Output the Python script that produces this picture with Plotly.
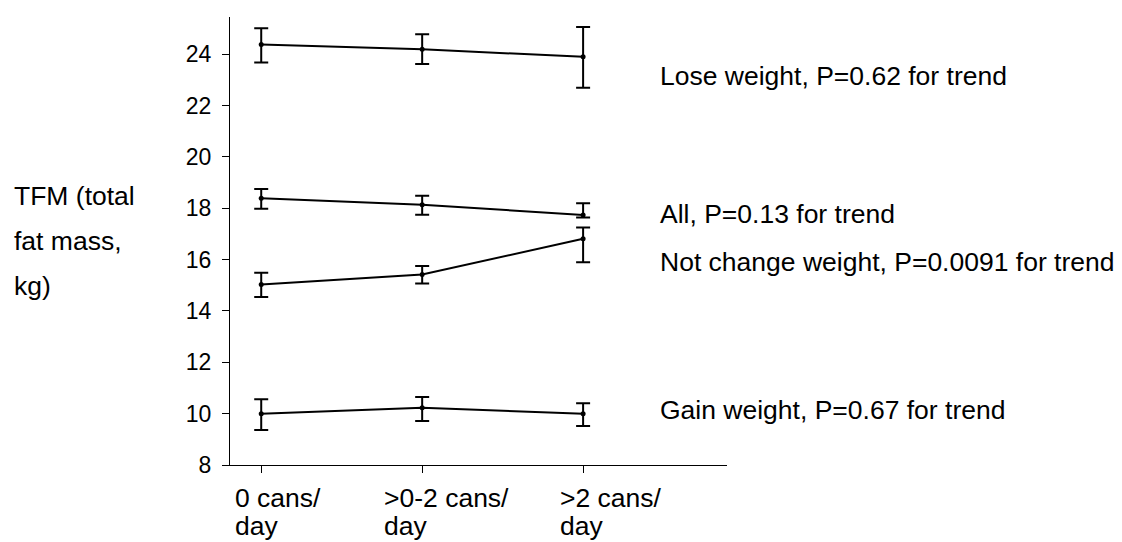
import plotly.graph_objects as go

# Soda intake categories (x positions 0, 1, 2)
categories = ["0 cans/", ">0-2 cans/", ">2 cans/"]
category_second_line = ["day", "day", "day"]
x_pos = [0, 1, 2]

# Mean total fat mass (kg) with upper / lower confidence limits
lose_mean = [24.38, 24.19, 23.90]
lose_upper = [25.01, 24.78, 25.06]
lose_lower = [23.68, 23.62, 22.69]

all_mean = [18.39, 18.14, 17.74]
all_upper = [18.75, 18.49, 18.20]
all_lower = [17.98, 17.75, 17.64]

same_mean = [15.03, 15.42, 16.81]
same_upper = [15.49, 15.75, 17.25]
same_lower = [14.54, 15.07, 15.90]

gain_mean = [10.00, 10.23, 10.00]
gain_upper = [10.56, 10.65, 10.41]
gain_lower = [9.36, 9.71, 9.52]

series_labels = [
    "Lose weight, P=0.62 for trend",
    "All, P=0.13 for trend",
    "Not change weight, P=0.0091 for trend",
    "Gain weight, P=0.67 for trend",
]
series_label_y = [23.15, 17.77, 15.9, 10.14]

y_ticks = [8, 10, 12, 14, 16, 18, 20, 22, 24]
y_title_lines = ["TFM (total", "fat mass,", "kg)"]

FONT = "Liberation Sans, Arial, sans-serif"
INK = "#000000"
BIG = 26.5

fig = go.Figure()

for mean, upper, lower in [
    (lose_mean, lose_upper, lose_lower),
    (all_mean, all_upper, all_lower),
    (same_mean, same_upper, same_lower),
    (gain_mean, gain_upper, gain_lower),
]:
    fig.add_trace(go.Scatter(
        x=x_pos,
        y=mean,
        mode="lines+markers",
        line=dict(color=INK, width=2),
        marker=dict(color=INK, size=5),
        error_y=dict(
            type="data",
            symmetric=False,
            array=[u - m for u, m in zip(upper, mean)],
            arrayminus=[m - l for m, l in zip(mean, lower)],
            color=INK,
            thickness=2,
            width=7,
        ),
        showlegend=False,
        hoverinfo="skip",
    ))

annotations = []

# Series labels to the right of the lines
for text, yv in zip(series_labels, series_label_y):
    annotations.append(dict(
        x=2.49, y=yv, xref="x", yref="y", text=text, showarrow=False,
        xanchor="left", yanchor="middle", xshift=-4,
        font=dict(family=FONT, size=BIG, color=INK),
    ))

# Y-axis title written as three stacked lines
for i, line in enumerate(y_title_lines):
    annotations.append(dict(
        x=0, y=0.6 - 0.1 * i, xref="paper", yref="paper", text=line,
        showarrow=False, xanchor="left", yanchor="middle", xshift=-218,
        font=dict(family=FONT, size=BIG, color=INK),
    ))

# Two-line, left-aligned category labels under the x axis
label_shift = [-28, -40, -25]
for xv, first, second, sh in zip(x_pos, categories, category_second_line, label_shift):
    for text, ys in ((first, -33), (second, -61)):
        annotations.append(dict(
            x=xv, y=0, xref="x", yref="paper", text=text, showarrow=False,
            xanchor="left", yanchor="middle", xshift=sh, yshift=ys,
            font=dict(family=FONT, size=BIG, color=INK),
        ))

fig.update_layout(
    width=1122,
    height=542,
    margin=dict(l=230, r=395, t=17, b=77),
    paper_bgcolor="white",
    plot_bgcolor="white",
    font=dict(family=FONT, size=16, color=INK),
    annotations=annotations,
    xaxis=dict(
        range=[-0.194, 2.894],
        tickvals=x_pos,
        showticklabels=False,
        ticks="outside",
        ticklen=7,
        tickwidth=1,
        tickcolor=INK,
        showline=True,
        linecolor=INK,
        linewidth=1,
        showgrid=False,
        zeroline=False,
    ),
    yaxis=dict(
        range=[8, 25.45],
        tickvals=y_ticks,
        ticks="outside",
        ticklen=7,
        tickwidth=1,
        tickcolor=INK,
        showline=True,
        linecolor=INK,
        linewidth=1,
        showgrid=False,
        zeroline=False,
        ticklabelstandoff=6,
        tickfont=dict(family=FONT, size=23, color=INK),
    ),
)

fig.write_html("out.html")
